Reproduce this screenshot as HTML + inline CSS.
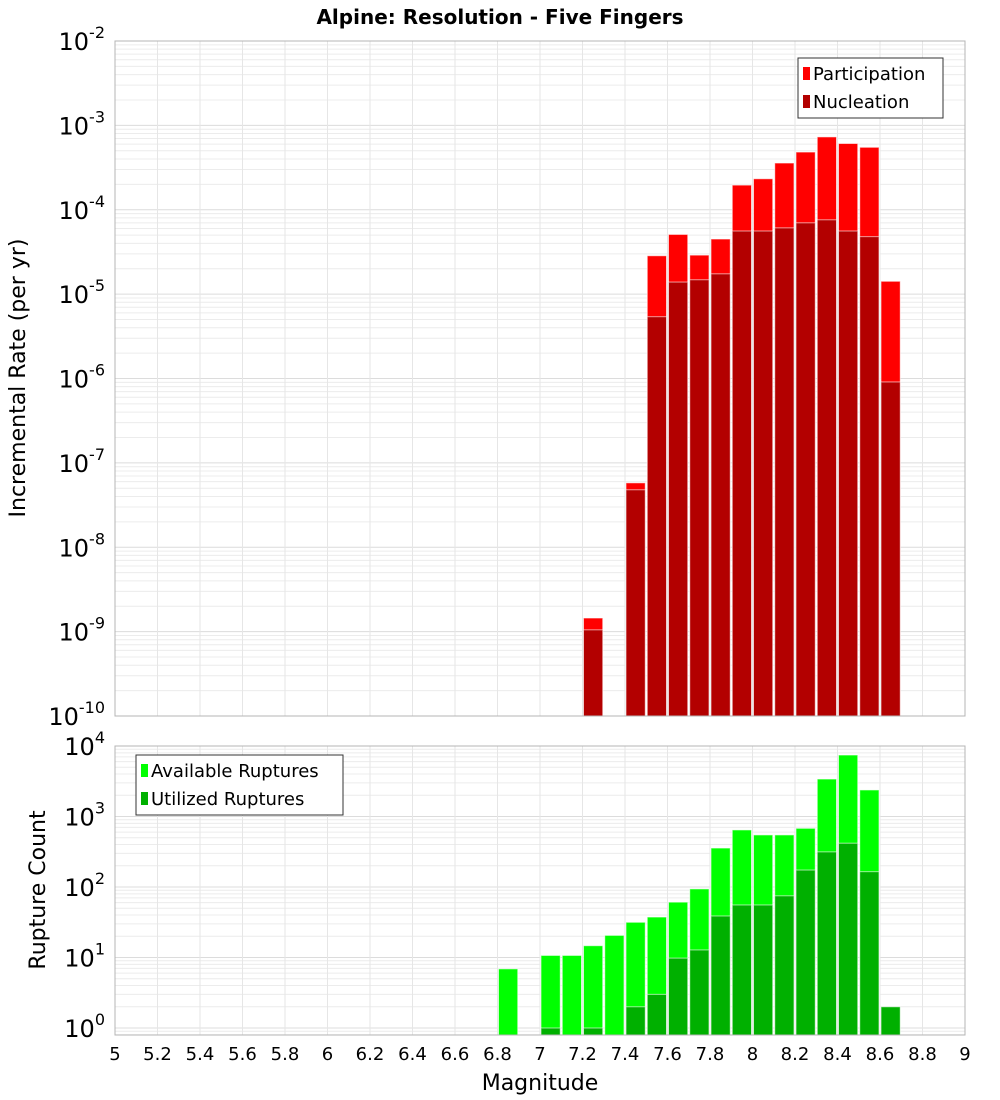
<!DOCTYPE html>
<html><head><meta charset="utf-8">
<style>
html,body{margin:0;padding:0;background:#fff;}
svg{display:block;font-family:"Liberation Sans","DejaVu Sans",sans-serif;}
</style></head>
<body>
<svg id="chart" width="1000" height="1100" viewBox="0 0 1000 1100" xmlns="http://www.w3.org/2000/svg">
<text x="500" y="24" text-anchor="middle" font-size="20" font-weight="bold" font-family="DejaVu Sans, sans-serif">Alpine: Resolution - Five Fingers</text>
<g id="top"></g>
<g id="bot"></g>
<text transform="translate(25,378) rotate(-90)" text-anchor="middle" font-size="22" font-family="DejaVu Sans, sans-serif">Incremental Rate (per yr)</text>
<text transform="translate(45,890) rotate(-90)" text-anchor="middle" font-size="22" font-family="DejaVu Sans, sans-serif">Rupture Count</text>
<text x="540" y="1090" text-anchor="middle" font-size="22" font-family="DejaVu Sans, sans-serif">Magnitude</text>
</svg>
<script>
const rateMags = [7.2, 7.4, 7.5, 7.6, 7.7, 7.8, 7.9, 8.0, 8.1, 8.2, 8.3, 8.4, 8.5, 8.6];
const participation = [1.45e-9, 5.8e-8, 2.85e-5, 5.1e-5, 2.9e-5, 4.5e-5, 1.96e-4, 2.33e-4, 3.58e-4, 4.83e-4, 7.3e-4, 6.1e-4, 5.5e-4, 1.42e-5];
const nucleation = [1.05e-9, 4.8e-8, 5.4e-6, 1.39e-5, 1.48e-5, 1.74e-5, 5.6e-5, 5.6e-5, 6.1e-5, 7.0e-5, 7.6e-5, 5.6e-5, 4.8e-5, 9.1e-7];
const countMags = [6.8, 7.0, 7.1, 7.2, 7.3, 7.4, 7.5, 7.6, 7.7, 7.8, 7.9, 8.0, 8.1, 8.2, 8.3, 8.4, 8.5, 8.6];
const available = [6.9, 10.7, 10.7, 14.7, 20.6, 31.6, 37.5, 61, 94, 357, 645, 548, 548, 680, 3400, 7450, 2380, 0];
const utilized = [0, 1.0, 0, 1.0, 0, 2.0, 3.0, 9.8, 12.8, 38.8, 55.6, 55.6, 75, 174, 315, 418, 165, 2.0];
const xTicks = ["5","5.2","5.4","5.6","5.8","6","6.2","6.4","6.6","6.8","7","7.2","7.4","7.6","7.8","8","8.2","8.4","8.6","8.8","9"];

const NS="http://www.w3.org/2000/svg";
const X0=115,X1=965,XMIN=5,XMAX=9;
const x=m=>X0+(m-XMIN)/(XMAX-XMIN)*(X1-X0);
function mk(tag,attrs,parent){const e=document.createElementNS(NS,tag);for(const k in attrs)e.setAttribute(k,attrs[k]);parent.appendChild(e);return e;}

function panel(g,top,bottom,lmin,lmax,yFn){
  const bg=mk('rect',{x:X0,y:top,width:X1-X0,height:bottom-top,fill:'#fff'},g);
  
  
  // minor log grid
  for(let d=Math.floor(lmin);d<lmax;d++){
    for(let k=1;k<10;k++){
      const v=d+Math.log10(k); if(v<lmin||v>lmax)continue;
      const yy=yFn(Math.pow(10,v));
      const ln=mk('line',{x1:X0,x2:X1,y1:yy,y2:yy,stroke:k==1?'#dcdcdc':'#ececec','stroke-width':1},g);
      
      
    }
  }
  xTicks.forEach(t=>{
    const xx=x(parseFloat(t));
    const ln=mk('line',{x1:xx,x2:xx,y1:top,y2:bottom,stroke:'#e6e6e6','stroke-width':1},g);
    
    
  });
}
function frame(g,top,bottom){
  const f=mk('rect',{x:X0,y:top,width:X1-X0,height:bottom-top,fill:'none',stroke:'#b4b4b4','stroke-width':1},g);
  
  
}
function yLabels(g,lmin,lmax,yFn,name){
  for(let d=lmin;d<=lmax;d++){
    const yy=yFn(Math.pow(10,d));
    const t=mk('text',{x:105,y:yy+9,'text-anchor':'end','font-size':24,'font-family':'DejaVu Sans, sans-serif'},g);
    
    
    t.textContent='10';
    const s=mk('tspan',{dy:-12,'font-size':16},t); s.textContent=String(d);
  }
}
function bar(g,m,v,yFn,base,fill,name){
  if(!(v>0))return;
  const x0=x(m)+1,x1=x(m+0.1)-1,yy=yFn(v);
  const r=mk('rect',{x:x0,y:yy,width:x1-x0,height:base-yy,fill:fill,stroke:'rgba(255,255,255,0.6)','stroke-width':1},g);
  
  
}

// TOP PANEL
const T0=41,T1=716,TL0=-10,TL1=-2;
const yT=v=>T1-(Math.log10(v)-TL0)/(TL1-TL0)*(T1-T0);
const gt=document.getElementById('top');
panel(gt,T0,T1,TL0,TL1,yT);
rateMags.forEach((m,i)=>bar(gt,m,participation[i],yT,T1,'#ff0000','participation-bar'));
rateMags.forEach((m,i)=>bar(gt,m,nucleation[i],yT,T1,'#b30000','nucleation-bar'));
frame(gt,T0,T1);
yLabels(gt,TL0,TL1,yT,'top-y-tick-label');

// BOTTOM PANEL
const B0=746,B1=1035,BTOP=4,PX=70.5,B_ONE=1028;
const yB=v=>B_ONE-Math.log10(v)*PX;
const gb=document.getElementById('bot');
panel(gb,B0,B1,-0.1,4,yB);
countMags.forEach((m,i)=>bar(gb,m,available[i],yB,B1,'#00ff00','available-bar'));
countMags.forEach((m,i)=>bar(gb,m,utilized[i],yB,B1,'#00b000','utilized-bar'));
frame(gb,B0,B1);
yLabels(gb,0,BTOP,yB,'bottom-y-tick-label');

// X tick labels
xTicks.forEach(t=>{
  const tx=mk('text',{x:x(parseFloat(t)),y:1060,'text-anchor':'middle','font-size':18,'font-family':'DejaVu Sans, sans-serif'},gb);
  
  
  tx.textContent=t;
});

// Legends
function legend(g,lx,ly,w,items,name){
  const lg=mk('g',{},g);
  
  
  mk('rect',{x:lx,y:ly,width:w,height:60,fill:'#fff',stroke:'#333','stroke-width':1},lg);
  items.forEach((it,i)=>{
    const sw=mk('rect',{x:lx+5,y:ly+9+i*28,width:7,height:13,fill:it[1]},lg);
    
    
    const t=mk('text',{x:lx+15,y:ly+22+i*28,'font-size':18,'font-family':'DejaVu Sans, sans-serif'},lg);
    
    
    t.textContent=it[0];
  });
}
legend(gt,798,58,145,[['Participation','#ff0000'],['Nucleation','#b30000']],'rate-legend');
legend(gb,136,755,207,[['Available Ruptures','#00ff00'],['Utilized Ruptures','#00b000']],'count-legend');
</script>
</body></html>
